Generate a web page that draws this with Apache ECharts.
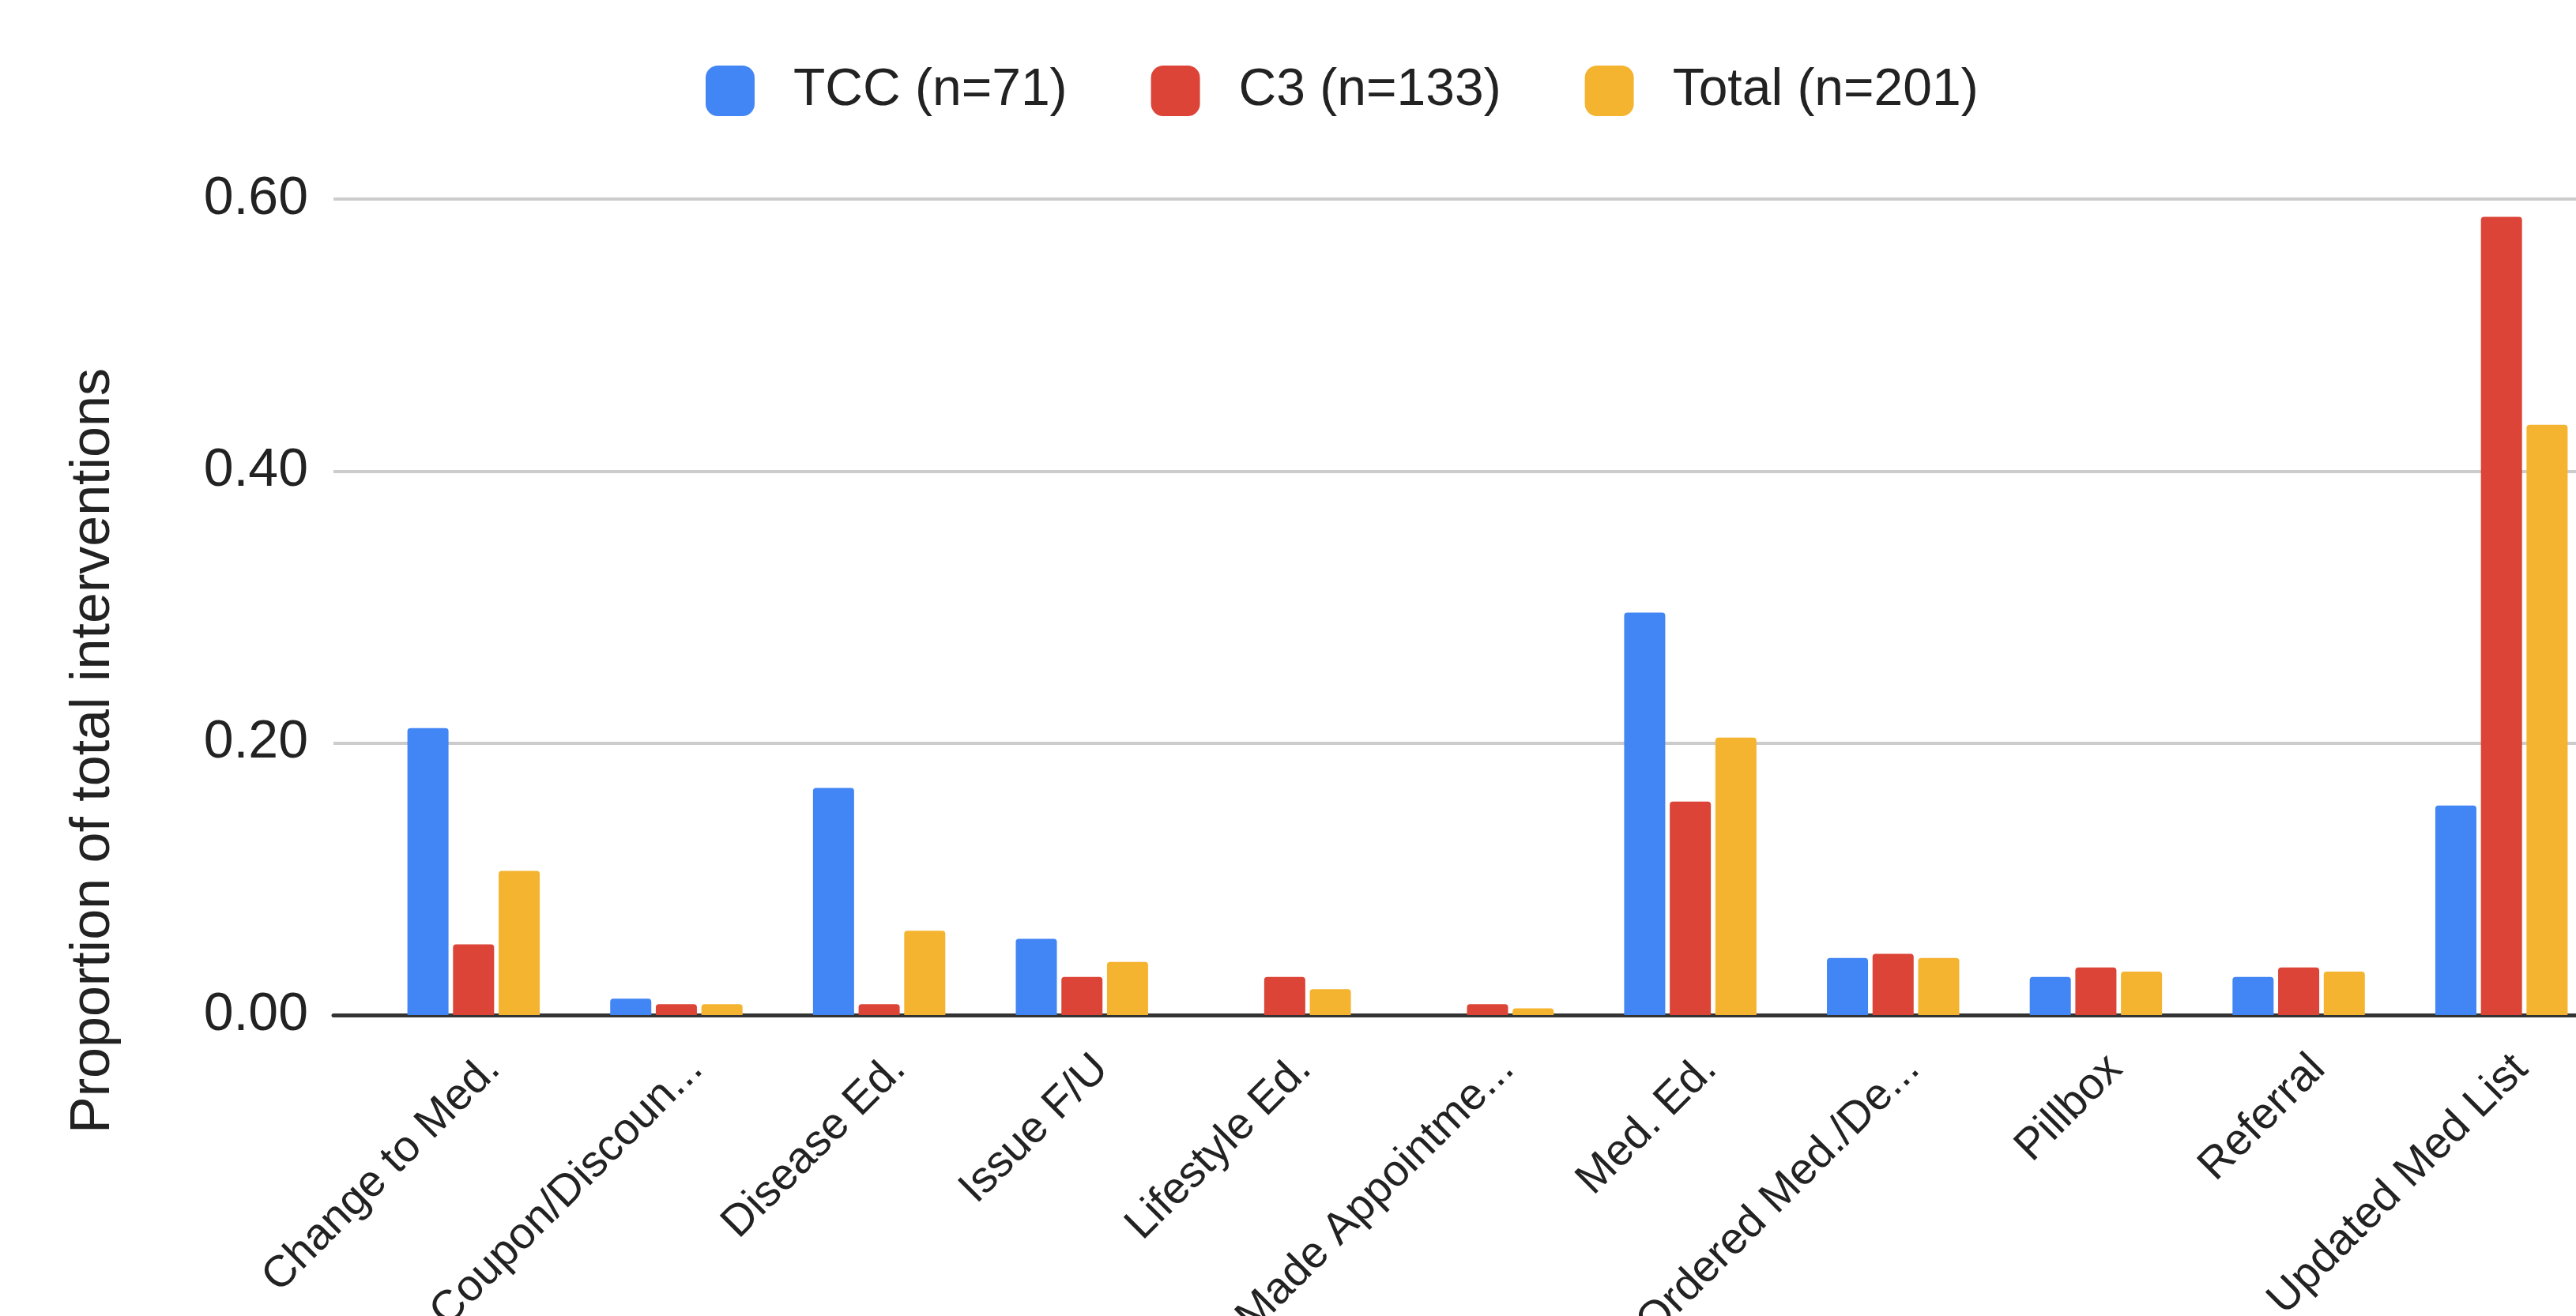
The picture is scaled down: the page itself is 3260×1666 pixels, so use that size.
<!DOCTYPE html>
<html>
<head>
<meta charset="utf-8">
<script src="https://cdn.jsdelivr.net/npm/echarts@6/dist/echarts.min.js"></script>
<style>
  html, body { margin: 0; padding: 0; background: #ffffff; }
  #chart { width: 3260px; height: 1666px; }
</style>
</head>
<body>
<div id="chart"></div>
<script>
const categories = ['Change to Med.', 'Coupon/Discoun...', 'Disease Ed.', 'Issue F/U', 'Lifestyle Ed.', 'Made Appointme...', 'Med. Ed.', 'Ordered Med./De...', 'Pillbox', 'Referral', 'Updated Med List'];
const seriesNames = ['TCC (n=71)', 'C3 (n=133)', 'Total (n=201)'];
const tccValues   = [0.211, 0.012, 0.167, 0.056, 0.000, 0.000, 0.296, 0.042, 0.028, 0.028, 0.154];
const c3Values    = [0.052, 0.008, 0.008, 0.028, 0.028, 0.008, 0.157, 0.045, 0.035, 0.035, 0.587];
const totalValues = [0.106, 0.008, 0.062, 0.039, 0.019, 0.005, 0.204, 0.042, 0.032, 0.032, 0.434];
const yTickValues = [0.00, 0.20, 0.40, 0.60];
const yAxisTitle = 'Proportion of total interventions';

const colors = ['#4285F4', '#DB4437', '#F4B430'];
const FONT = '"Liberation Sans", Arial, sans-serif';
const yMin = yTickValues[0];
const yMax = yTickValues[yTickValues.length - 1];
const yStep = yTickValues[1] - yTickValues[0];

const chart = echarts.init(document.getElementById('chart'), null, { renderer: 'canvas' });

const valuesBySeries = [tccValues, c3Values, totalValues];

const option = {
  backgroundColor: '#ffffff',
  animation: false,
  color: colors,
  textStyle: { fontFamily: FONT },
  legend: {
    left: 888,
    top: 77,
    itemWidth: 62,
    itemHeight: 64,
    itemGap: 106,
    icon: 'roundRect',
    data: seriesNames,
    textStyle: { fontSize: 66, color: '#222222', fontFamily: FONT, padding: [0, 0, 0, 44] }
  },
  grid: [
    { left: 422, top: 252, width: 2900, height: 1033, outerBoundsMode: 'none', containLabel: false },
    { left: 471, top: 252, width: 2823, height: 1033, outerBoundsMode: 'none', containLabel: false }
  ],
  xAxis: [
    {
      type: 'value', gridIndex: 0, min: 0, max: 1,
      axisLine: { show: true, lineStyle: { color: '#333333', width: 5 } },
      axisTick: { show: false }, axisLabel: { show: false }, splitLine: { show: false }
    },
    {
      type: 'category', gridIndex: 1, data: categories,
      axisLine: { show: false }, axisTick: { show: false },
      axisLabel: {
        interval: 0, rotate: 45, margin: 35,
        fontSize: 56, color: '#222222', fontFamily: FONT,
        formatter: v => '{t|' + v + '}',
        rich: { t: { fontSize: 56, color: '#222222', fontFamily: FONT, padding: [70, 0, 0, 0] } }
      }
    }
  ],
  yAxis: [
    {
      type: 'value', gridIndex: 0, min: yMin, max: yMax, interval: yStep,
      axisLine: { show: false }, axisTick: { show: false },
      axisLabel: {
        fontSize: 68, color: '#222222', fontFamily: FONT, margin: 32,
        formatter: v => v.toFixed(2)
      },
      splitLine: { show: true, lineStyle: { color: '#cccccc', width: 4 } },
      name: yAxisTitle,
      nameLocation: 'middle',
      nameGap: 268,
      nameTextStyle: { fontSize: 70, color: '#222222', fontFamily: FONT, padding: [0, 364, 0, 0] }
    },
    {
      type: 'value', gridIndex: 1, min: yMin, max: yMax, interval: yStep, show: false,
      splitLine: { show: false }
    }
  ],
  series: valuesBySeries.map((vals, i) => ({
    name: seriesNames[i],
    type: 'bar',
    xAxisIndex: 1,
    yAxisIndex: 1,
    data: vals,
    barWidth: 52,
    barGap: '11%',
    itemStyle: { color: colors[i], borderRadius: [4, 4, 0, 0] }
  }))
};

chart.setOption(option);
</script>
</body>
</html>
